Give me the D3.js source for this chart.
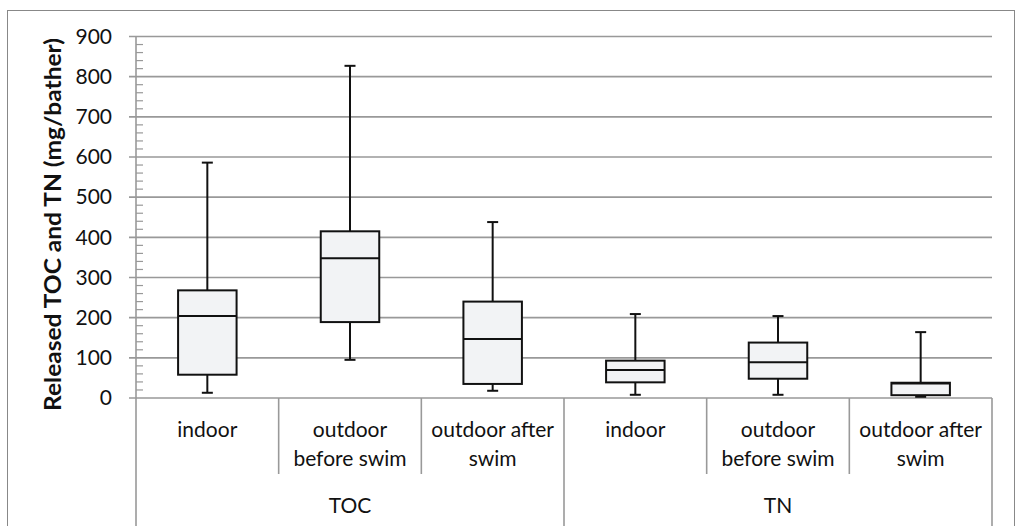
<!DOCTYPE html>
<html>
<head>
<meta charset="utf-8">
<script src="https://cdn.jsdelivr.net/npm/d3@7"></script>
<style>
body { margin: 0; background: #fff; }
text { font-family: Lato, "Open Sans", sans-serif; fill: #111; }
.grid line { stroke: #999; stroke-width: 1.6; }
.box { fill: #f2f3f5; stroke: #111; stroke-width: 2; }
.whisker { stroke: #111; stroke-width: 2; }
.sep { stroke: #999; stroke-width: 1.6; }
</style>
</head>
<body>
<div class="container"></div>
<script>
const W = 1020, H = 526;
const LEFT = 136, RIGHT = 992, TOP = 36.5, BOTTOM = 398;

// data
var groups = ["TOC", "TN"];
var subLabels = [["indoor"], ["outdoor", "before swim"], ["outdoor after", "swim"]];
var mins    = [13, 95, 18, 8, 8, 3];
var q1s     = [58, 189, 35, 39, 48, 7];
var medians = [204, 348, 147, 70, 89, 36];
var q3s     = [268, 415, 240, 93, 138, 38];
var maxs    = [586, 827, 438, 209, 204, 164];
var yTicks  = [0, 100, 200, 300, 400, 500, 600, 700, 800, 900];

var cats = [];
groups.forEach(function(g){
    subLabels.forEach(function(s, i){ cats.push(g + "-" + i); });
});

var svg = d3.select(".container").append("svg")
    .attr("width", W).attr("height", H);

// outer frame
svg.append("rect")
    .attr("x", 7.5).attr("y", 10.5)
    .attr("width", 1007).attr("height", 530)
    .attr("fill", "none").attr("stroke", "#888").attr("stroke-width", 1);

var x = d3.scaleBand().domain(cats).range([LEFT, RIGHT]).padding(0);
var y = d3.scaleLinear().domain([0, 900]).range([BOTTOM, TOP]);

// gridlines
var grid = svg.append("g").attr("class", "grid");
grid.selectAll("line").data(yTicks).join("line")
    .attr("x1", LEFT - 7).attr("x2", RIGHT)
    .attr("y1", function(d){ return y(d); })
    .attr("y2", function(d){ return y(d); });

// minor ticks
var minor = d3.range(0, 900, 20).filter(function(d){ return d % 100 !== 0; });
svg.append("g").selectAll("line").data(minor).join("line")
    .attr("x1", LEFT).attr("x2", LEFT + 7)
    .attr("y1", function(d){ return y(d); })
    .attr("y2", function(d){ return y(d); })
    .attr("stroke", "#999").attr("stroke-width", 1.2);

// y axis line
svg.append("line").attr("class", "sep")
    .attr("x1", LEFT).attr("x2", LEFT)
    .attr("y1", TOP).attr("y2", BOTTOM);

// y labels
var yAxis = d3.axisLeft(y).tickValues(yTicks).tickSize(0).tickPadding(0);
var ya = svg.append("g").attr("transform", "translate(" + 112 + ",0)").call(yAxis);
ya.select(".domain").remove();
ya.selectAll("text").style("font-size", "21px").style("font-family", "Lato, sans-serif").attr("fill", "#111");

// y title
svg.append("text")
    .attr("transform", "translate(61," + 224.5 + ") rotate(-90)")
    .attr("text-anchor", "middle")
    .attr("textLength", 373).attr("lengthAdjust", "spacingAndGlyphs")
    .style("font-size", "22.5px").style("font-weight", "bold")
    .text("Released TOC and TN (mg/bather)");

// category separators
var bw = x.bandwidth();
cats.forEach(function(c, i){
    var xx = x(c);
    var isGroup = i % 3 === 0;
    svg.append("line").attr("class", "sep")
        .attr("x1", xx).attr("x2", xx)
        .attr("y1", BOTTOM).attr("y2", isGroup ? H : 474);
});
svg.append("line").attr("class", "sep")
    .attr("x1", RIGHT).attr("x2", RIGHT).attr("y1", BOTTOM).attr("y2", H);

// category labels
cats.forEach(function(c, i){
    var lines = subLabels[i % 3];
    var t = svg.append("text")
        .attr("x", x(c) + bw / 2).attr("y", 437)
        .attr("text-anchor", "middle").style("font-size", "21px");
    lines.forEach(function(l, k){
        t.append("tspan").attr("x", x(c) + bw / 2).attr("dy", k === 0 ? 0 : 29).text(l);
    });
});
groups.forEach(function(g, gi){
    var x0 = x(cats[gi * 3]), x1 = x(cats[gi * 3 + 2]) + bw;
    svg.append("text")
        .attr("x", (x0 + x1) / 2).attr("y", 513)
        .attr("text-anchor", "middle").style("font-size", "21px")
        .text(g);
});

// boxes
var boxW = bw * 0.41, capW = 11;
cats.forEach(function(c, i){
    var cx = x(c) + bw / 2;
    var g = svg.append("g");
    g.append("line").attr("class", "whisker")
        .attr("x1", cx).attr("x2", cx).attr("y1", y(maxs[i])).attr("y2", y(q3s[i]));
    g.append("line").attr("class", "whisker")
        .attr("x1", cx).attr("x2", cx).attr("y1", y(q1s[i])).attr("y2", y(mins[i]));
    g.append("line").attr("class", "whisker")
        .attr("x1", cx - capW / 2).attr("x2", cx + capW / 2).attr("y1", y(maxs[i])).attr("y2", y(maxs[i]));
    g.append("line").attr("class", "whisker")
        .attr("x1", cx - capW / 2).attr("x2", cx + capW / 2).attr("y1", y(mins[i])).attr("y2", y(mins[i]));
    g.append("rect").attr("class", "box")
        .attr("x", cx - boxW / 2).attr("width", boxW)
        .attr("y", y(q3s[i])).attr("height", y(q1s[i]) - y(q3s[i]));
    g.append("line").attr("class", "whisker")
        .attr("x1", cx - boxW / 2).attr("x2", cx + boxW / 2)
        .attr("y1", y(medians[i])).attr("y2", y(medians[i]));
});
</script>
</body>
</html>
